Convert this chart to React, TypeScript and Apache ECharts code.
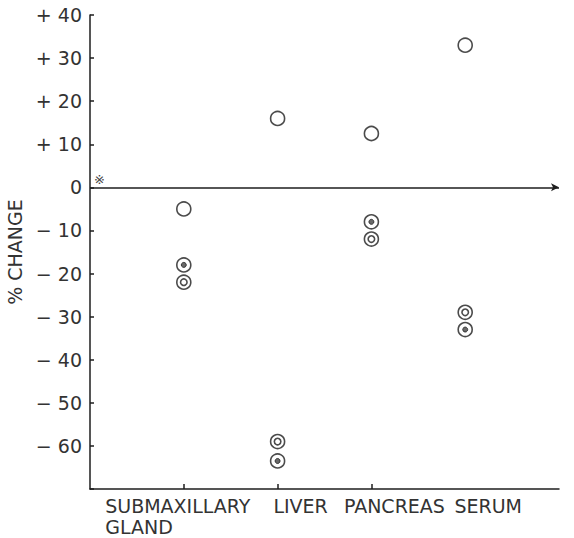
import React, { useEffect, useRef } from "react";
import * as echarts from "echarts";

const categories = ["SUBMAXILLARY\nGLAND", "LIVER", "PANCREAS", "SERUM"];
const categoryPos = [1, 2, 3, 4];
// open circles
const openValues = [-5, 16, 12.5, 33];
// double circles with open centre
const ringOpenValues = [-22, -59, -12, -29];
// double circles with dotted centre
const ringDotValues = [-18, -63.5, -8, -33];
const yTicks = [40, 30, 20, 10, 0, -10, -20, -30, -40, -50, -60];

const INK = "#1e1e1e";
const FONT = "DejaVu Sans";
const XFS = 19;

export default function App() {
  const ref = useRef<HTMLDivElement>(null);
  useEffect(() => {
    if (!ref.current) return;
    const chart = echarts.init(ref.current, undefined, { renderer: "svg" });
    const pts = (vals: number[]) => vals.map((v, i) => [categoryPos[i], v]);
    const ringStyle = { color: "transparent", borderColor: INK, borderWidth: 1.6 };
    const labelFormatter = (v: number) => {
      const i = categoryPos.indexOf(v);
      if (i < 0) return "";
      const t = categories[i];
      if (t.includes("\n")) {
        const [a, b] = t.split("\n");
        return `{l|${a}}\n{l|${b}}`;
      }
      return `{s|${t}}`;
    };
    const rich = {
      l: { fontFamily: FONT, fontSize: XFS, color: "#333", align: "left", lineHeight: 21, padding: [0, 12, 0, 0] },
      s: { fontFamily: FONT, fontSize: XFS, color: "#333", lineHeight: 21, padding: [0, 0, 0, 46] },
    };
    // two bottom axes share one scale; labels alternate so they never overlap
    const makeX = (labelVals: number[], main: boolean) => ({
      type: "value",
      min: 0,
      max: 5,
      interval: 1,
      position: "bottom",
      splitLine: { show: false },
      axisLine: { show: main, onZero: false, lineStyle: { color: INK, width: 1.5 } },
      axisTick: { show: main, inside: true, length: 5, customValues: [1, 2, 3], lineStyle: { color: INK, width: 1.5 } },
      axisLabel: {
        customValues: labelVals,
        hideOverlap: false,
        showMinLabel: true,
        showMaxLabel: true,
        margin: 6,
        color: "#333",
        fontFamily: FONT,
        fontSize: XFS,
        formatter: labelFormatter,
        rich,
      },
    });
    chart.setOption({
      animation: false,
      backgroundColor: "#fff",
      grid: { left: 90, right: 15, top: 15, bottom: 49, outerBoundsMode: "none", containLabel: false },
      xAxis: [makeX([1, 3], true), makeX([2, 4], false)],
      yAxis: {
        type: "value",
        min: -70,
        max: 40,
        interval: 10,
        name: "% CHANGE",
        nameLocation: "middle",
        nameRotate: 90,
        nameGap: 64,
        nameTextStyle: { fontFamily: FONT, fontSize: 19, color: "#333" },
        splitLine: { show: false },
        axisLine: { lineStyle: { color: INK, width: 1.5 } },
        axisTick: { inside: true, length: 4, lineStyle: { color: INK, width: 1.5 } },
        axisLabel: {
          margin: 8,
          color: "#333",
          fontFamily: FONT,
          fontSize: 19,
          formatter: (v: number) => {
            if (!yTicks.includes(v)) return "";
            if (v > 0) return `+ ${v}`;
            if (v < 0) return `\u2212 ${-v}`;
            return "0";
          },
        },
      },
      graphic: [
        { type: "text", left: 94, top: 173, style: { text: "\u203B", fontSize: 13, fill: "#444", fontFamily: FONT } },
      ],
      series: [
        {
          type: "scatter",
          name: "zero",
          data: [],
          markLine: {
            silent: true,
            symbol: ["none", "arrow"],
            symbolSize: [6, 8],
            label: { show: false },
            lineStyle: { color: INK, width: 1.6, type: "solid" },
            data: [[{ coord: [0, 0] }, { coord: [5, 0] }]],
          },
        },
        { type: "scatter", name: "open", symbol: "circle", symbolSize: 14, itemStyle: ringStyle, data: pts(openValues) },
        { type: "scatter", name: "ringOpenOuter", symbol: "circle", symbolSize: 14, itemStyle: ringStyle, data: pts(ringOpenValues) },
        { type: "scatter", name: "ringOpenInner", symbol: "circle", symbolSize: 6.5, itemStyle: ringStyle, data: pts(ringOpenValues) },
        { type: "scatter", name: "ringDotOuter", symbol: "circle", symbolSize: 14, itemStyle: ringStyle, data: pts(ringDotValues) },
        {
          type: "scatter",
          name: "ringDotInner",
          symbol: "circle",
          symbolSize: 5,
          itemStyle: { color: "#444", borderColor: INK, borderWidth: 1 },
          data: pts(ringDotValues),
        },
      ],
    });
    return () => chart.dispose();
  }, []);
  return <div ref={ref} style={{ position: "absolute", left: 0, top: 0, width: 574, height: 538 }} />;
}
